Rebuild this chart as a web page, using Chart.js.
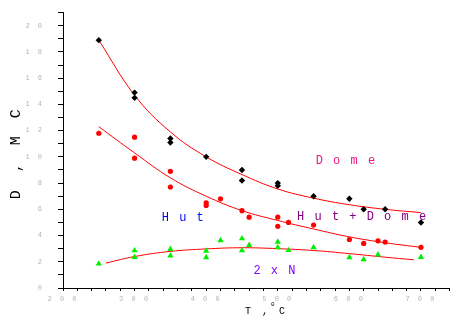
<!DOCTYPE html>
<html>
<head>
<meta charset="utf-8">
<script src="https://cdn.jsdelivr.net/npm/chart.js@4/dist/chart.umd.min.js"></script>
<style>
  html, body { margin: 0; padding: 0; background: #fff; }
  #box { width: 456px; height: 332px; }
</style>
</head>
<body>
<div id="box"><canvas id="myChart"></canvas></div>
<script>
// measured points, T in deg C
var domeT = [250, 300, 300, 350, 350, 400, 450, 450, 500, 500, 550, 600, 620, 650, 700];
var domeD = [1.89, 1.49, 1.45, 1.14, 1.11, 1.00, 0.90, 0.82, 0.80, 0.78, 0.70, 0.68, 0.60, 0.60, 0.50];

var hutT = [250, 300, 300, 350, 350, 400, 400, 420, 450, 460, 500, 500, 515, 550, 600, 620, 640, 650, 700];
var hutD = [1.18, 1.15, 0.99, 0.89, 0.77, 0.65, 0.63, 0.68, 0.59, 0.54, 0.54, 0.47, 0.50, 0.48, 0.37, 0.34, 0.36, 0.35, 0.31];

var nT = [250, 300, 300, 350, 350, 400, 400, 420, 450, 450, 460, 500, 500, 515, 550, 600, 620, 640, 700];
var nD = [0.185, 0.286, 0.235, 0.296, 0.246, 0.283, 0.233, 0.363, 0.377, 0.286, 0.327, 0.352, 0.31, 0.288, 0.31, 0.233, 0.218, 0.254, 0.235];

// fitted curves
var fitT = [250, 300, 350, 400, 450, 500, 550, 600, 650, 700];
var domeFit = [1.89, 1.47, 1.19, 1.00, 0.865, 0.755, 0.685, 0.635, 0.60, 0.575];
var hutFit = [1.23, 1.03, 0.84, 0.70, 0.59, 0.515, 0.45, 0.39, 0.345, 0.31];
var nFitT = [260, 300, 350, 400, 450, 500, 550, 600, 650, 690];
var nFit = [0.19, 0.24, 0.279, 0.298, 0.307, 0.30, 0.286, 0.262, 0.235, 0.215];

var xTickText = ["2 0 0", "3 0 0", "4 0 0", "5 0 0", "6 0 0", "7 0 0"];
var yTickText = ["0", "2", "4", "6", "8", "1 0", "1 2", "1 4", "1 6", "1 8", "2 0"];

var noteText = ["D o m e", "H u t", "H u t + D o m e", "2 x N"];
var noteT = [553, 338, 527, 466];
var noteD = [0.943, 0.508, 0.516, 0.103];
var noteColor = ["#f0147f", "#0000ff", "#800080", "#8000ff"];

function pts(xs, ys) {
  var out = [];
  for (var i = 0; i < xs.length; i++) out.push({ x: xs[i], y: ys[i] });
  return out;
}

function fitLine(xs, ys) {
  return {
    data: pts(xs, ys),
    showLine: true,
    borderColor: "#ff0000",
    borderWidth: 1,
    pointRadius: 0,
    tension: 0.4,
    fill: false
  };
}

var notesPlugin = {
  id: "notes",
  beforeDraw: function (chart) {
    chart.ctx.letterSpacing = "2px";
  },
  afterDraw: function (chart) {
    var ctx = chart.ctx;
    var xs = chart.scales.x, ys = chart.scales.y;
    ctx.save();
    ctx.textAlign = "left";
    ctx.textBaseline = "alphabetic";
    ctx.font = "12px 'Liberation Mono'";
    ctx.letterSpacing = "1.5px";
    for (var i = 0; i < noteText.length; i++) {
      ctx.fillStyle = noteColor[i];
      ctx.fillText(noteText[i], xs.getPixelForValue(noteT[i]), ys.getPixelForValue(noteD[i]));
    }
    // axis titles
    ctx.fillStyle = "#000";
    ctx.font = "10px 'Liberation Mono'";
    ctx.letterSpacing = "2.5px";
    ctx.fillText("T ,", 245, 314);
    ctx.font = "6px 'Liberation Mono'";
    ctx.letterSpacing = "0px";
    ctx.fillText("0", 271, 306);
    ctx.font = "10px 'Liberation Mono'";
    ctx.fillText("C", 279, 314);

    ctx.translate(16, 152);
    ctx.rotate(-Math.PI / 2);
    ctx.textAlign = "center";
    ctx.textBaseline = "middle";
    ctx.font = "15px 'Liberation Mono'";
    ctx.letterSpacing = "4.5px";
    ctx.fillText("D , M C", 0, 0);
    ctx.restore();
    ctx.letterSpacing = "0px";
  }
};

new Chart("myChart", {
  type: "scatter",
  data: {
    datasets: [
      {
        data: pts(domeT, domeD),
        pointStyle: "rectRot",
        pointRadius: 3.2,
        pointBackgroundColor: "#000",
        pointBorderWidth: 0
      },
      {
        data: pts(hutT, hutD),
        pointStyle: "circle",
        pointRadius: 2.6,
        pointBackgroundColor: "#ff0000",
        pointBorderWidth: 0
      },
      {
        data: pts(nT, nD),
        pointStyle: "triangle",
        pointRadius: 3.6,
        pointBackgroundColor: "#00ee00",
        pointBorderWidth: 0
      },
      fitLine(fitT, domeFit),
      fitLine(fitT, hutFit),
      fitLine(nFitT, nFit)
    ]
  },
  options: {
    responsive: true,
    maintainAspectRatio: false,
    animation: false,
    layout: { padding: { top: 12.6, right: 6.4, left: 0, bottom: 0 } },
    plugins: { legend: { display: false }, tooltip: { enabled: false } },
    scales: {
      x: {
        type: "linear",
        min: 200,
        max: 740,
        afterFit: function (s) {
          s.height = 44;
          s.paddingLeft = 0; s.paddingRight = 0; s.paddingTop = 0; s.paddingBottom = 0;
        },
        border: { color: "#000", width: 1 },
        grid: { drawOnChartArea: false, tickLength: 3, tickColor: "#000" },
        ticks: {
          stepSize: 20,
          autoSkip: false,
          maxRotation: 0,
          padding: 4,
          color: "#b4b4b4",
          font: { family: "'Liberation Mono'", size: 7 },
          callback: function (v, i) {
            return i % 5 === 0 && xTickText[i / 5] ? xTickText[i / 5] : "";
          }
        }
      },
      y: {
        min: 0,
        max: 2.1,
        afterFit: function (s) {
          s.width = 63;
          s.paddingLeft = 0; s.paddingRight = 0; s.paddingTop = 0; s.paddingBottom = 0;
        },
        border: { color: "#000", width: 1 },
        grid: { drawOnChartArea: false, tickLength: 5, tickColor: "#000" },
        ticks: {
          stepSize: 0.1,
          autoSkip: false,
          padding: 14,
          color: "#b4b4b4",
          font: { family: "'Liberation Mono'", size: 7 },
          callback: function (v, i) {
            return i % 2 === 0 && yTickText[i / 2] ? yTickText[i / 2] : "";
          }
        }
      }
    }
  },
  plugins: [notesPlugin]
});
</script>
</body>
</html>
